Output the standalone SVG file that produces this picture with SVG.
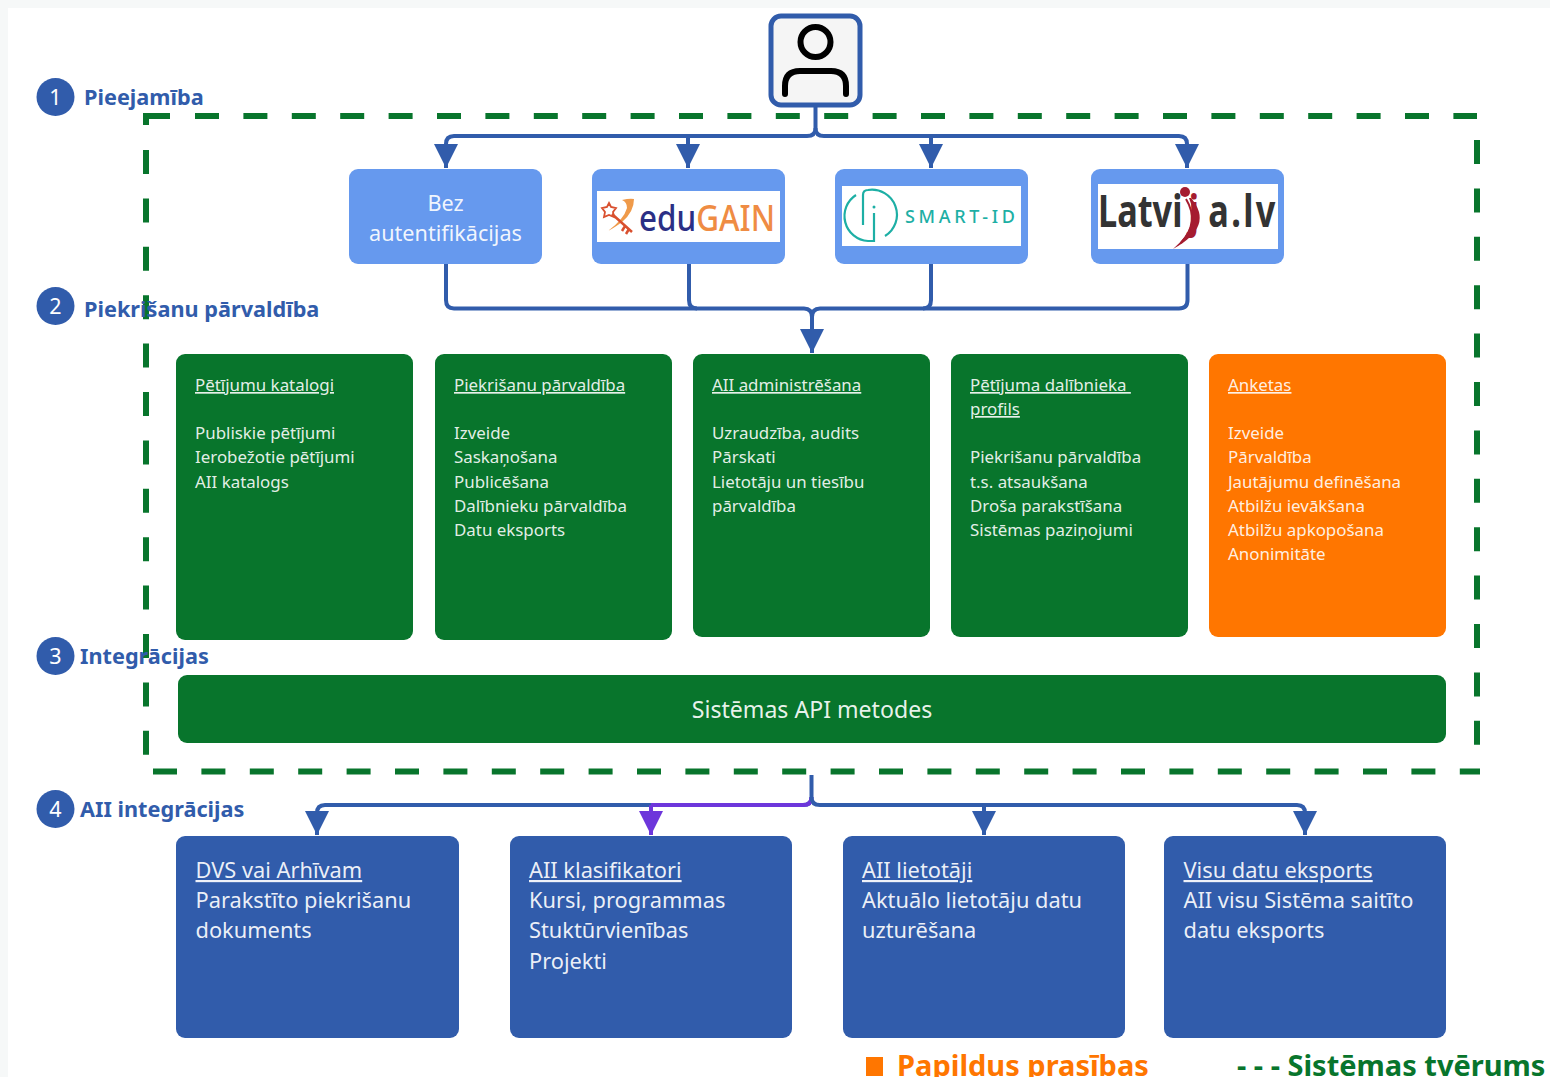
<svg xmlns="http://www.w3.org/2000/svg" width="1550" height="1077" viewBox="0 0 1550 1077">
<defs>
<marker id="ab" markerUnits="userSpaceOnUse" markerWidth="24" markerHeight="24" refX="24" refY="12" orient="auto"><path d="M0,0L24,12L0,24Z" fill="#315cab"/></marker>
<marker id="ap" markerUnits="userSpaceOnUse" markerWidth="24" markerHeight="24" refX="24" refY="12" orient="auto"><path d="M0,0L24,12L0,24Z" fill="#6d36db"/></marker>
</defs>
<style>
text{font-family:"Noto Sans","Liberation Sans",sans-serif}
.conn{fill:none;stroke:#315cab;stroke-width:4}
.scope{fill:none;stroke:#08752c;stroke-width:6}
.dash{stroke-dasharray:24 24.4}
.auth{fill:#6699ee}
.green{fill:#08752c}
.orange{fill:#ff7600}
.blue{fill:#315cab}
.logo{fill:#fff}
.t16{font-size:16.9px;fill:#fff;fill-opacity:.9}
.t22{font-size:21.8px;fill:#fff;fill-opacity:.92}
.u{text-decoration:underline}
.lab{font-size:21.7px;font-weight:700;fill:#315cab}
.num{font-size:21.5px;fill:#fff;text-anchor:middle}
.leg{font-size:29px;font-weight:700}
.teal{fill:none;stroke:#1dafa5;stroke-width:2.200}
</style>
<rect width="1550" height="1077" fill="#fff"/>
<path d="M0,0H1550V8H8V1077H0Z" fill="#f6f8f8"/>

<g id="scope">
<path class="scope" d="M146,125V116H170"/>
<path class="scope dash" d="M195,116H1477"/>
<path class="scope dash" d="M1477,140V770"/>
<path class="scope dash" d="M153,771.500H1480"/>
<path class="scope dash" d="M146,150V771"/>
</g>

<g id="connectors">
<path class="conn" d="M815.500,106V128Q815.500,136 807,136H454Q446,136 446,144V168" marker-end="url(#ab)"/>
<path class="conn" d="M815.500,128Q815.500,136 824,136H1179Q1187,136 1187,144V168" marker-end="url(#ab)"/>
<path class="conn" d="M688,136V168" marker-end="url(#ab)"/>
<path class="conn" d="M931,136V168" marker-end="url(#ab)"/>
<path class="conn" d="M446,264V300Q446,308.500 454,308.500H804Q812,308.500 812,317V353" marker-end="url(#ab)"/>
<path class="conn" d="M689,264V300Q689,308.500 697,308.500"/>
<path class="conn" d="M931,264V300Q931,308.500 923,308.500"/>
<path class="conn" d="M1187.500,264V300Q1187.500,308.500 1179,308.500H820Q812,308.500 812,317"/>
<path class="conn" d="M811.500,775V797Q811.500,805 803,805H325Q317,805 317,813V835" marker-end="url(#ab)"/>
<path class="conn" d="M651,805H803Q811.500,805 811.500,797" style="stroke:#6d36db"/>
<path class="conn" d="M651,805V835" style="stroke:#6d36db" marker-end="url(#ap)"/>
<path class="conn" d="M811.500,797Q811.500,805 820,805H1297Q1305,805 1305,813V835" marker-end="url(#ab)"/>
<path class="conn" d="M984,805V835" marker-end="url(#ab)"/>
</g>

<g id="user">
<rect x="771" y="16" width="89" height="89" rx="10" fill="#f5f5f5" stroke="#315cab" stroke-width="5"/>
<circle cx="815.500" cy="42" r="15" fill="none" stroke="#000" stroke-width="6"/>
<path d="M785,94V86Q785,71 800,71H831Q846,71 846,86V94" fill="none" stroke="#000" stroke-width="6" stroke-linecap="round"/>
</g>

<g id="auth-none">
<rect class="auth" x="349" y="169" width="193" height="95" rx="9"/>
<text x="445.500" y="211" text-anchor="middle" font-size="21.600" fill="#fff" fill-opacity=".92">Bez</text>
<text x="445.500" y="241" text-anchor="middle" font-size="21.600" fill="#fff" fill-opacity=".92">autentifikācijas</text>
</g>

<g id="auth-edugain">
<rect class="auth" x="592" y="169" width="193" height="95" rx="9"/>
<rect class="logo" x="597" y="191" width="183" height="51"/>
<path d="M622,200Q630,198 634,199Q634,212 622,222Q614,228 608,231Q624,219 627,208Q627,202 622,200Z" fill="#ef9a4a"/>
<path d="M612,214L632,232M625,226l-3,5M629,229l-3,5" fill="none" stroke="#d9502f" stroke-width="2.500"/>
<path d="M609,203l2,4 5,1-3,4 1,5-5-2-5,2 1-5-3-4 5-1Z" fill="none" stroke="#d9502f" stroke-width="1.800"/>
<text x="639" y="231" font-size="36" font-weight="500" textLength="136" lengthAdjust="spacingAndGlyphs" fill="#2b2f85">edu<tspan fill="#ef8c43">GAIN</tspan></text>
</g>

<g id="auth-smartid">
<rect class="auth" x="835" y="169" width="193" height="95" rx="9"/>
<rect class="logo" x="842" y="186" width="179" height="60"/>
<path class="teal" d="M856,195A25,25 0 0 0 868,241H874V213"/>
<path class="teal" d="M863,225V195Q863,190 868,190A25,25 0 0 1 885,236"/>
<circle cx="874" cy="207" r="1.500" fill="#1dafa5"/>
<text x="905" y="223" font-size="18" font-weight="500" textLength="110" fill="#1dafa5">SMART-ID</text>
</g>

<g id="auth-latvija">
<rect class="auth" x="1091" y="169" width="193" height="95" rx="9"/>
<rect class="logo" x="1098" y="184" width="180" height="65"/>
<text transform="translate(1098 227) scale(.78 1)" font-size="44" font-weight="700" fill="#333">Latvi<tspan fill="#a51c30" dx="8">j</tspan><tspan dx="12" letter-spacing="3">a.lv</tspan></text>
<path d="M1191,198Q1215,226 1173,249Q1201,225 1189,198Z" fill="#a51c30"/>
<path d="M1186,199Q1200,222 1181,243" fill="none" stroke="#a51c30" stroke-width="2"/>
<circle cx="1185" cy="192" r="5" fill="#a51c30"/>
</g>

<g id="katalogi">
<rect class="green" x="176" y="354" width="237" height="286" rx="9"/>
<text class="t16 u" x="195" y="391">Pētījumu katalogi</text>
<text class="t16" x="195" y="439">Publiskie pētījumi</text>
<text class="t16" x="195" y="463">Ierobežotie pētījumi</text>
<text class="t16" x="195" y="487.500">AII katalogs</text>
</g>
<g id="piekrisanu">
<rect class="green" x="435" y="354" width="237" height="286" rx="9"/>
<text class="t16 u" x="454" y="391">Piekrišanu pārvaldība</text>
<text class="t16" x="454" y="439">Izveide</text>
<text class="t16" x="454" y="463">Saskaņošana</text>
<text class="t16" x="454" y="487.500">Publicēšana</text>
<text class="t16" x="454" y="512">Dalībnieku pārvaldība</text>
<text class="t16" x="454" y="536">Datu eksports</text>
</g>
<g id="administresana">
<rect class="green" x="693" y="354" width="237" height="283" rx="9"/>
<text class="t16 u" x="712" y="391">AII administrēšana</text>
<text class="t16" x="712" y="439">Uzraudzība, audits</text>
<text class="t16" x="712" y="463">Pārskati</text>
<text class="t16" x="712" y="487.500">Lietotāju un tiesību</text>
<text class="t16" x="712" y="512">pārvaldība</text>
</g>
<g id="profils">
<rect class="green" x="951" y="354" width="237" height="283" rx="9"/>
<text class="t16 u" x="970" y="391">Pētījuma dalībnieka&#160;</text>
<text class="t16 u" x="970" y="415">profils</text>
<text class="t16" x="970" y="463">Piekrišanu pārvaldība</text>
<text class="t16" x="970" y="487.500">t.s. atsaukšana</text>
<text class="t16" x="970" y="512">Droša parakstīšana</text>
<text class="t16" x="970" y="536">Sistēmas paziņojumi</text>
</g>
<g id="anketas">
<rect class="orange" x="1209" y="354" width="237" height="283" rx="9"/>
<text class="t16 u" x="1228" y="391">Anketas</text>
<text class="t16" x="1228" y="439">Izveide</text>
<text class="t16" x="1228" y="463">Pārvaldība</text>
<text class="t16" x="1228" y="487.500">Jautājumu definēšana</text>
<text class="t16" x="1228" y="512">Atbilžu ievākšana</text>
<text class="t16" x="1228" y="536">Atbilžu apkopošana</text>
<text class="t16" x="1228" y="560">Anonimitāte</text>
</g>
<g id="api">
<rect class="green" x="178" y="675" width="1268" height="68" rx="9"/>
<text x="812" y="718" text-anchor="middle" font-size="23.100" fill="#fff" fill-opacity=".92">Sistēmas API metodes</text>
</g>

<g id="dvs">
<rect class="blue" x="176" y="836" width="283" height="202" rx="9"/>
<text class="t22 u" x="195.500" y="878">DVS vai Arhīvam</text>
<text class="t22" x="195.500" y="908">Parakstīto piekrišanu</text>
<text class="t22" x="195.500" y="938">dokuments</text>
</g>
<g id="klasifikatori">
<rect class="blue" x="510" y="836" width="282" height="202" rx="9"/>
<text class="t22 u" x="529" y="878">AII klasifikatori</text>
<text class="t22" x="529" y="908">Kursi, programmas</text>
<text class="t22" x="529" y="938">Stuktūrvienības</text>
<text class="t22" x="529" y="969">Projekti</text>
</g>
<g id="lietotaji">
<rect class="blue" x="843" y="836" width="282" height="202" rx="9"/>
<text class="t22 u" x="862" y="878">AII lietotāji</text>
<text class="t22" x="862" y="908">Aktuālo lietotāju datu</text>
<text class="t22" x="862" y="938">uzturēšana</text>
</g>
<g id="eksports">
<rect class="blue" x="1164" y="836" width="282" height="202" rx="9"/>
<text class="t22 u" x="1183.500" y="878">Visu datu eksports</text>
<text class="t22" x="1183.500" y="908">AII visu Sistēma saitīto</text>
<text class="t22" x="1183.500" y="938">datu eksports</text>
</g>

<g id="label-1"><circle class="blue" cx="55.500" cy="97" r="19"/><text class="num" x="55.500" y="105">1</text><text class="lab" x="84" y="105">Pieejamība</text></g>
<g id="label-2"><circle class="blue" cx="55.500" cy="306" r="19"/><text class="num" x="55.500" y="314">2</text><text class="lab" x="84" y="317">Piekrišanu pārvaldība</text></g>
<g id="label-3"><circle class="blue" cx="55.500" cy="656" r="19"/><text class="num" x="55.500" y="664">3</text><text class="lab" x="80" y="664">Integrācijas</text></g>
<g id="label-4"><circle class="blue" cx="55.500" cy="809" r="19"/><text class="num" x="55.500" y="817">4</text><text class="lab" x="80" y="817">AII integrācijas</text></g>

<g id="legend">
<rect class="orange" x="866" y="1057" width="17" height="19"/>
<text class="leg" x="897" y="1076" fill="#ff7600">Papildus prasības</text>
<text class="leg" x="1237" y="1076" fill="#08752c">- - - Sistēmas tvērums</text>
</g>
</svg>
